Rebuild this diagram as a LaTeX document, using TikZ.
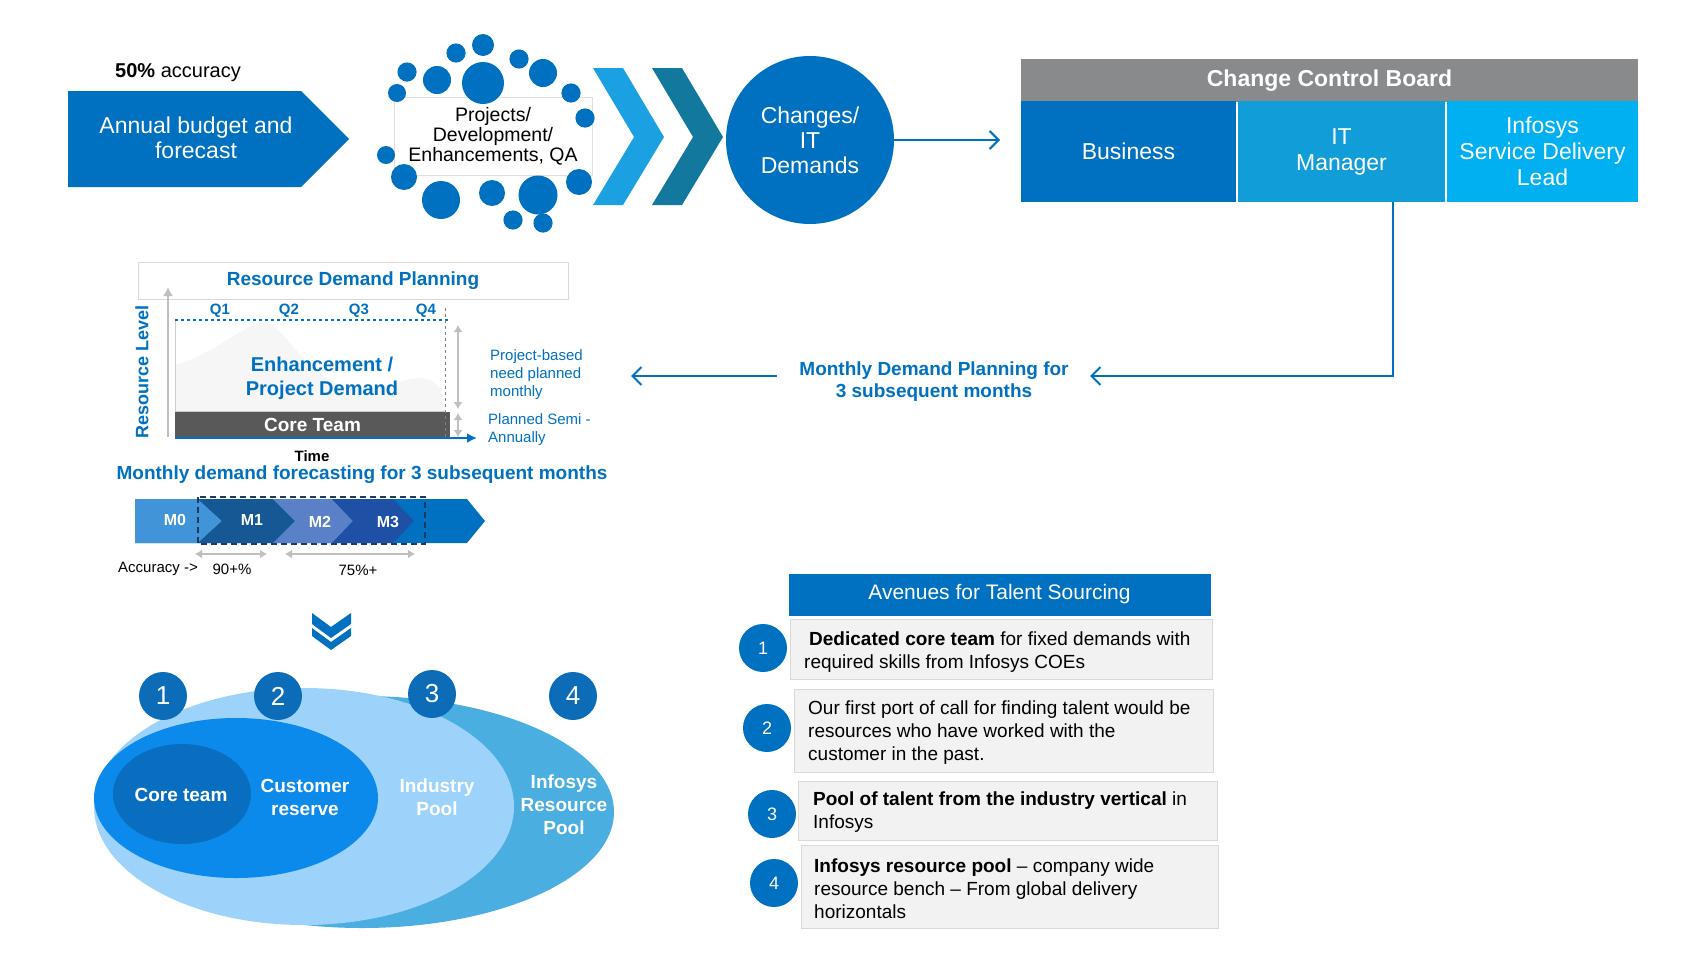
\documentclass[tikz,border=0pt]{standalone}
\usepackage{fontspec}
\setmainfont{Liberation Sans}
\usetikzlibrary{arrows.meta,shapes.geometric}
\definecolor{mblue}{RGB}{0,112,192}
\definecolor{ccbgrey}{RGB}{137,138,140}
\definecolor{itblue}{RGB}{17,157,216}
\definecolor{cyanb}{RGB}{0,176,240}
\definecolor{chevA}{RGB}{27,161,226}
\definecolor{chevB}{RGB}{19,120,158}
\definecolor{axgrey}{RGB}{191,191,191}
\definecolor{coregrey}{RGB}{89,89,89}
\definecolor{mzero}{RGB}{66,148,216}
\definecolor{mone}{RGB}{22,88,148}
\definecolor{mtwo}{RGB}{90,128,200}
\definecolor{mthree}{RGB}{30,80,165}
\definecolor{navyd}{RGB}{31,56,100}
\definecolor{lightell}{RGB}{157,210,250}
\definecolor{infell}{RGB}{74,174,224}
\definecolor{custell}{RGB}{12,138,236}
\definecolor{coreell}{RGB}{10,110,192}
\definecolor{numc}{RGB}{12,108,184}
\definecolor{boxfill}{RGB}{242,242,242}
\definecolor{boxline}{RGB}{217,217,217}
\newcommand{\fz}[2]{\fontsize{#1}{#2}\selectfont}
\begin{document}
\begin{tikzpicture}[x=1pt,y=-1pt,
  arr/.style={draw=mblue,line width=2pt,-{Straight Barb[length=9pt,width=18pt]}},
  wtxt/.style={text=white,align=center},
  num/.style={circle,fill=numc,text=white,minimum size=48pt,inner sep=0pt},
  tbox/.style={rectangle,draw=boxline,fill=boxfill,line width=1pt,inner sep=0pt},
  gdbl/.style={draw=axgrey,line width=2.5pt,{Latex[length=7pt,width=9pt]}-{Latex[length=7pt,width=9pt]}},
  cell/.style={rectangle,inner sep=0pt,minimum height=101pt,text=white,align=center,font=\fz{23}{26}},
  mlab/.style={text=white,font=\bfseries\fz{16}{18}},
  ql/.style={text=mblue,font=\bfseries\fz{15}{17}},
  ttext/.style={anchor=west,align=left,inner sep=0pt,font=\fz{19}{23}},
]
\useasboundingbox (0,0) rectangle (1700,956);

% ---------- top row ----------
\node[font=\fz{20}{24}] (acc) at (178,73) {\textbf{50\%} accuracy};
\fill[mblue] (68,91) -- (301,91) -- (349,139) -- (301,187) -- (68,187) -- cycle;
\node[wtxt,font=\fz{23}{25}] (annual) at (196,138) {Annual budget and\\forecast};

\node[draw=gray!25,fill=white,line width=0.8pt,minimum width=198pt,minimum height=78pt,inner sep=0pt,align=center,font=\fz{19.5}{20}] (proj) at (493,136) {Projects/\\Development/\\Enhancements, QA};
\foreach \x/\y/\r in {483/45/11,456/53/9.6,519/59/9.6,407/72/9.6,437/80/14,483/83/21,543/73/14,397/93/9,571/93/9.6,585/118/9.6,386/155/9,404/177/13,579/182/13,441/200/19,492/193/13,538/195/19.5,513/220/9.6,543/223/9.6}
  \fill[mblue] (\x,\y) circle[radius=\r pt];

\fill[chevA] (593,68) -- (623,68) -- (664,137) -- (623,205) -- (593,205) -- (634,137) -- cycle;
\fill[chevB] (652,68) -- (682,68) -- (723,137) -- (682,205) -- (652,205) -- (693,137) -- cycle;

\node[circle,fill=mblue,minimum size=168pt,inner sep=0pt,wtxt,font=\fz{23}{25}] (chg) at (810,140) {Changes/\\IT\\Demands};
\coordinate (ccbin) at (1000,140);
\draw[arr] (chg.east) -- (ccbin);

\node[fill=ccbgrey,minimum width=617pt,minimum height=43pt,inner sep=0pt,text=white,font=\bfseries\fz{23}{25}] (ccb) at (1329.5,80.5) {Change Control Board};
\node[cell,fill=mblue,minimum width=215pt] (bus) at (1128.5,151.5) {Business};
\node[cell,fill=itblue,minimum width=207pt] (itm) at (1341.5,151.5) {IT\\Manager};
\node[cell,fill=cyanb,minimum width=191pt] (sdl) at (1542.5,151.5) {Infosys\\Service Delivery\\Lead};

\coordinate (itdown) at (1393,202);
\coordinate (mdpin) at (1090,376);
\draw[arr] (itdown) |- (mdpin);
\node[text=mblue,align=center,font=\bfseries\fz{19}{22}] (mdp) at (934,382) {Monthly Demand Planning for\\3 subsequent months};
\coordinate (mdpout) at (777,376);
\coordinate (rdpin) at (631,376);
\draw[arr] (mdpout) -- (rdpin);

% ---------- resource demand planning ----------
\node[draw=gray!30,fill=white,line width=1pt,minimum width=430pt,minimum height=37pt,inner sep=0pt,text=mblue,font=\bfseries\fz{19}{22}] (rdp) at (353,280.5) {Resource Demand Planning};
\fill[gray!7] (175,411) -- (175,365) .. controls (220,352) and (250,318) .. (268,322) .. controls (290,335) and (310,380) .. (350,388) .. controls (390,392) and (410,372) .. (430,380) .. controls (440,385) and (445,395) .. (445,411) -- cycle;
\draw[gray!40,line width=1pt] (175,320) -- (175,411) -- (445,411);
\draw[mblue,dashed,line width=1.2pt] (175,320) -- (450,320);
\node[fill=coregrey,minimum width=275pt,minimum height=25pt,inner sep=0pt,text=white,font=\bfseries\fz{19}{22}] (core) at (312.5,424.5) {Core Team};
\draw[gray,dashed,line width=1pt] (445,308) -- (445,437);
\draw[mblue,line width=2pt,-{Latex[length=10pt,width=10pt]}] (175,438) -- (477,438);
\draw[axgrey,line width=2.5pt,-{Latex[length=9pt,width=10pt]}] (168,437) -- (168,287);
\node[ql] (q1) at (220,311) {Q1};
\node[ql] (q2) at (289,311) {Q2};
\node[ql] (q3) at (359,311) {Q3};
\node[ql] (q4) at (426,311) {Q4};
\node[text=mblue,align=center,font=\bfseries\fz{20}{24}] (enh) at (322,378) {Enhancement /\\Project Demand};
\draw[gdbl] (458,325) -- (458,409);
\draw[gdbl] (458,413) -- (458,437);
\node[anchor=west,text=mblue,align=left,inner sep=0pt,font=\fz{15}{18}] (pb) at (490,375) {Project-based\\need planned\\monthly};
\node[anchor=west,text=mblue,align=left,inner sep=0pt,font=\fz{15}{18}] (ps) at (488,430) {Planned Semi -\\Annually};
\node[font=\bfseries\fz{15}{17}] (time) at (312,456) {Time};
\node[rotate=90,text=mblue,font=\bfseries\fz{18}{20}] (rl) at (142,372) {Resource Level};
\node[text=mblue,font=\bfseries\fz{19}{22}] (mdf) at (362,475) {Monthly demand forecasting for 3 subsequent months};

% ---------- M bar ----------
\fill[mblue] (135,499) -- (467,499) -- (485,521) -- (467,543) -- (135,543) -- cycle;
\fill[mzero] (135,499) -- (198,499) -- (222,521) -- (198,543) -- (135,543) -- cycle;
\fill[mone] (198,499) -- (273,499) -- (295,521) -- (273,543) -- (198,543) -- (222,521) -- cycle;
\fill[mtwo] (273,499) -- (332,499) -- (353,521) -- (332,543) -- (273,543) -- (295,521) -- cycle;
\fill[mthree] (332,499) -- (393,499) -- (414,521) -- (393,543) -- (332,543) -- (353,521) -- cycle;
\node[mlab] (m0) at (175,520) {M0};
\node[mlab] (m1) at (252,520) {M1};
\node[mlab] (m2) at (320,522) {M2};
\node[mlab] (m3) at (388,522) {M3};
\draw[navyd,line width=1.5pt,dash pattern=on 6pt off 4pt] (198,497) rectangle (425,544);
\draw[gdbl,line width=2pt] (195,554) -- (267,554);
\draw[gdbl,line width=2pt] (285,554) -- (415,554);
\node[font=\fz{15}{17}] (accl) at (158,569) {Accuracy ->};
\node[font=\fz{15}{17}] (a90) at (232,569) {90+\%};
\node[font=\fz{15}{17}] (a75) at (358,570) {75\%+};

% ---------- down chevrons ----------
\fill[mblue] (312,613) -- (331,627) -- (351,613) -- (351,624) -- (331,638) -- (312,624) -- cycle;
\fill[mblue] (312,628) -- (331,642) -- (351,628) -- (351,636) -- (331,650) -- (312,636) -- cycle;

% ---------- ellipses ----------
\node[ellipse,fill=infell,minimum width=504pt,minimum height=232pt,inner sep=0pt] (e4) at (362,812) {};
\node[ellipse,fill=lightell,minimum width=420pt,minimum height=237pt,inner sep=0pt] (e3) at (304,806.5) {};
\node[ellipse,fill=custell,minimum width=284pt,minimum height=160pt,inner sep=0pt] (e2) at (236,798) {};
\node[ellipse,fill=coreell,minimum width=138pt,minimum height=100pt,inner sep=0pt] (e1) at (182,794) {};
\node[wtxt,font=\bfseries\fz{19}{23}] (t1) at (181,795) {Core team};
\node[wtxt,font=\bfseries\fz{19}{23}] (t2) at (305,797) {Customer\\reserve};
\node[wtxt,font=\bfseries\fz{19}{23}] (t3) at (437,797) {Industry\\Pool};
\node[wtxt,font=\bfseries\fz{19}{23}] (t4) at (564,805) {Infosys\\Resource\\Pool};
\node[num,font=\fz{26}{28}] (n1) at (163,696) {1};
\node[num,font=\fz{26}{28}] (n2) at (278,696) {2};
\node[num,font=\fz{26}{28}] (n3) at (432,694) {3};
\node[num,font=\fz{26}{28}] (n4) at (573,696) {4};

% ---------- talent sourcing ----------
\node[fill=mblue,minimum width=422pt,minimum height=42pt,inner sep=0pt,text=white,font=\fz{21}{24}] (ats) at (999.5,594.5) {Avenues for Talent Sourcing};
\node[tbox,minimum width=422pt,minimum height=60pt] (b1) at (1001,649) {};
\node[tbox,minimum width=419pt,minimum height=83pt] (b2) at (1003.5,730.5) {};
\node[tbox,minimum width=419pt,minimum height=59pt] (b3) at (1007.5,810.5) {};
\node[tbox,minimum width=417pt,minimum height=83pt] (b4) at (1009.5,886.5) {};
\node[ttext] (x1) at (804,652.5) {\hspace*{5pt}\textbf{Dedicated core team} for fixed demands with\\required skills from Infosys COEs};
\node[ttext] (x2) at (808,733) {Our first port of call for finding talent would be\\resources who have worked with the\\customer in the past.};
\node[ttext] (x3) at (813,812.5) {\textbf{Pool of talent from the industry vertical} in\\Infosys};
\node[ttext] (x4) at (814,889) {\textbf{Infosys resource pool} -- company wide\\resource bench -- From global delivery\\horizontals};
\node[num,fill=mblue,font=\fz{18}{20}] (s1) at (763,648) {1};
\node[num,fill=mblue,font=\fz{18}{20}] (s2) at (767,728) {2};
\node[num,fill=mblue,font=\fz{18}{20}] (s3) at (772,814) {3};
\node[num,fill=mblue,font=\fz{18}{20}] (s4) at (774,883) {4};
\end{tikzpicture}
\end{document}
